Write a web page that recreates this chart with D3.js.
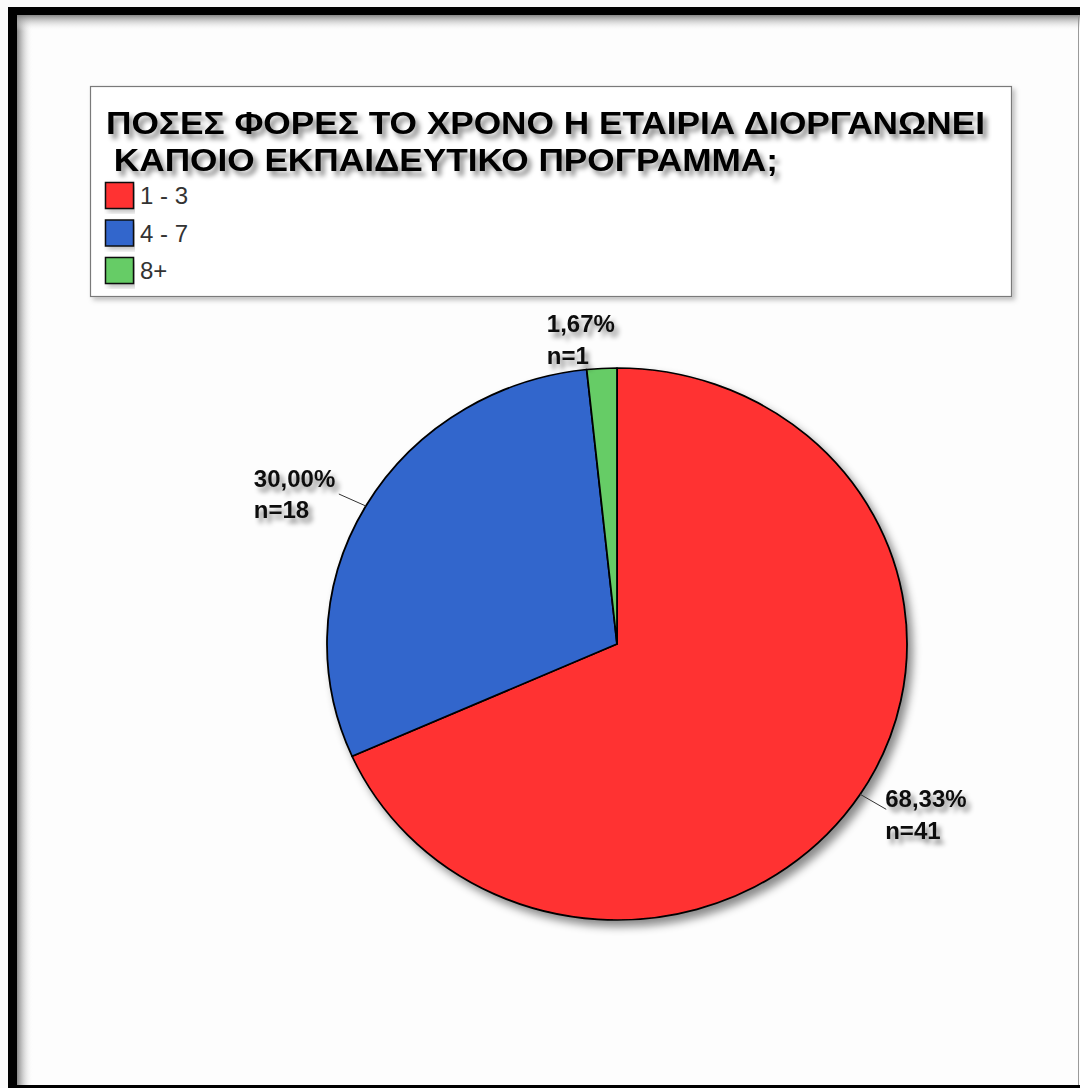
<!DOCTYPE html>
<html><head><meta charset="utf-8">
<script src="https://cdn.jsdelivr.net/npm/d3@7"></script>
<style>body{margin:0;background:#fff}svg{display:block}</style>
</head><body>
<svg id="c" width="1080" height="1088"></svg>
<script>
// ---- data ----
const categories = ["1 - 3", "4 - 7", "8+"];
const counts = [41, 18, 1];
const colors = ["#FF3333", "#3366CC", "#66CC66"];
const titleLines = ["ΠΟΣΕΣ ΦΟΡΕΣ ΤΟ ΧΡΟΝΟ Η ΕΤΑΙΡΙΑ ΔΙΟΡΓΑΝΩΝΕΙ", " ΚΑΠΟΙΟ ΕΚΠΑΙΔΕΥΤΙΚΟ ΠΡΟΓΡΑΜΜΑ;"];

const svg = d3.select("#c");
const defs = svg.append("defs");

// filters
const ts = defs.append("filter").attr("id","ts").attr("x","-20%").attr("y","-60%").attr("width","150%").attr("height","260%");
ts.append("feDropShadow").attr("dx",4).attr("dy",5).attr("stdDeviation",2.5).attr("flood-color","#000").attr("flood-opacity",0.45);
const ps = defs.append("filter").attr("id","ps").attr("x","-20%").attr("y","-20%").attr("width","140%").attr("height","140%");
ps.append("feDropShadow").attr("dx",5).attr("dy",6).attr("stdDeviation",4).attr("flood-color","#000").attr("flood-opacity",0.45);
const bs = defs.append("filter").attr("id","bs").attr("x","-5%").attr("y","-10%").attr("width","110%").attr("height","130%");
bs.append("feDropShadow").attr("dx",3).attr("dy",3).attr("stdDeviation",2.5).attr("flood-color","#000").attr("flood-opacity",0.25);

const gl = defs.append("linearGradient").attr("id","gl").attr("x1",0).attr("x2",1).attr("y1",0).attr("y2",0);
gl.append("stop").attr("offset",0).attr("stop-color","#808080").attr("stop-opacity",0.95);
gl.append("stop").attr("offset",1).attr("stop-color","#ffffff").attr("stop-opacity",0);
const gt = defs.append("linearGradient").attr("id","gt").attr("x1",0).attr("x2",0).attr("y1",0).attr("y2",1);
gt.append("stop").attr("offset",0).attr("stop-color","#808080").attr("stop-opacity",0.95);
gt.append("stop").attr("offset",1).attr("stop-color","#ffffff").attr("stop-opacity",0);

// ---- frame ----
svg.append("rect").attr("x",0).attr("y",0).attr("width",1080).attr("height",1088).attr("fill","#fafafa");
svg.append("rect").attr("x",17).attr("y",15).attr("width",1063).attr("height",1070).attr("fill","#fdfdfd");
svg.append("rect").attr("x",17).attr("y",15).attr("width",16).attr("height",1070).attr("fill","url(#gl)");
svg.append("rect").attr("x",17).attr("y",15).attr("width",1063).attr("height",16).attr("fill","url(#gt)");
svg.append("rect").attr("x",8).attr("y",7).attr("width",1072).attr("height",8).attr("fill","#000");
svg.append("rect").attr("x",8).attr("y",7).attr("width",9).attr("height",1081).attr("fill","#000");
svg.append("rect").attr("x",8).attr("y",1085).attr("width",1072).attr("height",3).attr("fill","#000");
svg.append("line").attr("x1",1078.5).attr("x2",1078.5).attr("y1",15).attr("y2",1085).attr("stroke","#9a9a9a").attr("stroke-width",1);

// ---- legend ----
const lg = svg.append("g");
lg.append("rect").attr("x",90.5).attr("y",86.5).attr("width",921).attr("height",210)
  .attr("fill","#fff").attr("stroke","#7a7a7a").attr("stroke-width",1.2).attr("filter","url(#bs)");
const titleX = [106, 104], titleY = [134, 171], titleW = [879, 674];
lg.selectAll("text.title").data(titleLines).join("text").attr("class","title")
  .attr("x",(d,i)=>titleX[i]).attr("y",(d,i)=>titleY[i])
  .attr("textLength",(d,i)=>titleW[i]).attr("lengthAdjust","spacingAndGlyphs")
  .attr("font-family","'Liberation Sans', Arial, sans-serif").attr("font-weight","bold")
  .attr("font-size",31).attr("fill","#000").attr("filter","url(#ts)")
  .style("white-space","pre").text(d=>d);

const legY = d3.scalePoint().domain(categories).range([182, 257]);
const items = lg.selectAll("g.item").data(categories).join("g").attr("class","item")
  .attr("transform",d=>`translate(0,${legY(d)})`);
items.append("rect").attr("x",105.5).attr("y",0.5).attr("width",28).attr("height",26)
  .attr("fill",(d,i)=>colors[i]).attr("stroke","#111").attr("stroke-width",1.5).attr("filter","url(#bs)");
items.append("text").attr("x",140).attr("y",22)
  .attr("font-family","'Liberation Sans Narrow', 'Liberation Sans', Arial, sans-serif").attr("font-size",24)
  .attr("fill","#333").style("white-space","pre").text(d=>d);

// ---- pie ----
const cx = 617, cy = 644, R = 290, ky = 276/290;
const total = d3.sum(counts);
const loc = d3.formatLocale({decimal:",", thousands:".", grouping:[3], currency:["","€"]});
const fmt = loc.format(".2f");
const pie = d3.pie().sort(null).value(d=>d).startAngle(0).endAngle(2*Math.PI);
const arcs = pie(counts);
const arc = d3.arc().innerRadius(0).outerRadius(R);

const pg = svg.append("g").attr("filter","url(#ps)");
pg.append("g").attr("transform",`translate(${cx},${cy}) scale(1,${ky})`)
  .selectAll("path").data(arcs).join("path")
  .attr("d",arc).attr("fill",(d,i)=>colors[i])
  .attr("stroke","#000").attr("stroke-width",1.8).attr("stroke-linejoin","round");

// ---- labels ----
const lab = svg.append("g");
const fontL = "'Liberation Sans', Arial, sans-serif";
arcs.forEach((a,i)=>{
  const m = (a.startAngle + a.endAngle)/2;
  const ax = cx + R*Math.sin(m), ay = cy - R*Math.cos(m)*ky;
  const lines = [fmt(counts[i]/total*100)+"%", "n="+counts[i]];
  const frac = counts[i]/total;
  let tx, ty1, ty2;
  if (frac < 0.05) {
    tx = ax - 55; ty1 = ay - 36; ty2 = ay - 4;
  } else if (Math.sin(m) >= 0) {
    lab.append("line").attr("x1",ax).attr("y1",ay).attr("x2",ax+26).attr("y2",ay+15)
      .attr("stroke","#333").attr("stroke-width",1);
    tx = ax + 25; ty1 = ay + 13; ty2 = ay + 45;
  } else {
    lab.append("line").attr("x1",ax).attr("y1",ay).attr("x2",ax-27).attr("y2",ay-12)
      .attr("stroke","#333").attr("stroke-width",1);
    tx = ax - 112; ty1 = ay - 19; ty2 = ay + 12;
  }
  [ty1, ty2].forEach((ty,k)=>{
    lab.append("text").attr("x",tx).attr("y",ty)
      .attr("font-family",fontL).attr("font-weight","bold").attr("font-size",24)
      .attr("fill","#111").attr("filter","url(#ts)").text(lines[k]);
  });
});
</script>
</body></html>
